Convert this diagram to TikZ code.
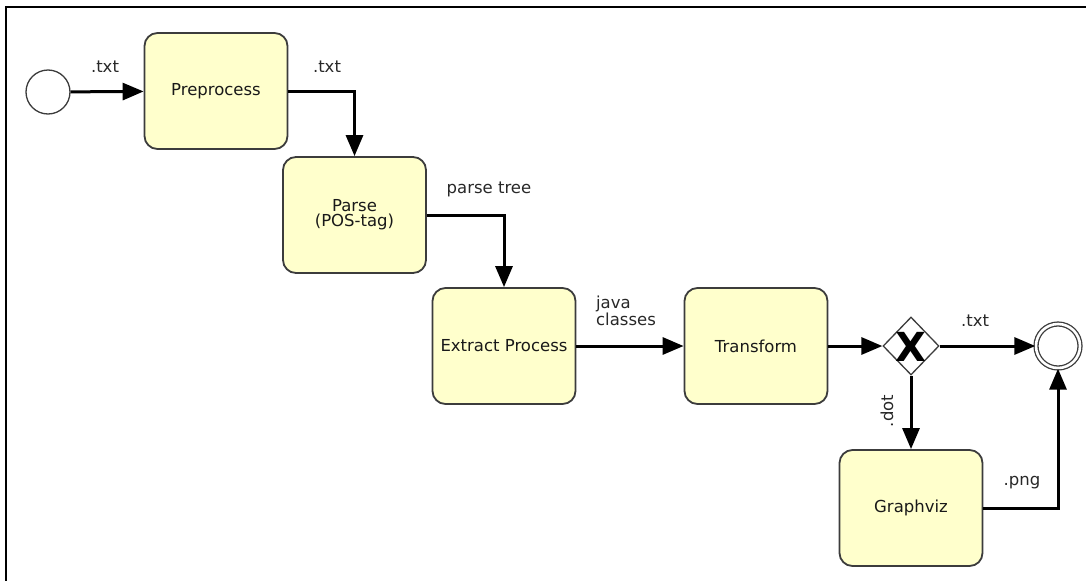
\documentclass[tikz,border=0pt]{standalone}
\usepackage{fontspec}
\setmainfont{DejaVu Sans}
\usetikzlibrary{arrows.meta,shapes.geometric}
\definecolor{boxfill}{RGB}{255,255,204}
\definecolor{boxline}{RGB}{60,60,60}
\definecolor{lbl}{RGB}{40,40,40}
\tikzset{
  task/.style={draw=boxline,line width=1.8pt,fill=boxfill,rounded corners=13pt,minimum width=143pt,minimum height=116pt,align=center,font=\fontsize{16.5}{18}\selectfont,text=black!90},
  flow/.style={line width=3pt,-{Triangle[length=21pt,width=17pt]}},
  lab/.style={font=\fontsize{16.5}{17.5}\selectfont,text=lbl,align=left,inner sep=0pt},
  startev/.style={circle,draw=boxline,line width=1.3pt,fill=white,minimum size=44pt,inner sep=0pt},
  endev/.style={circle,draw=boxline,line width=1.3pt,double=white,double distance=2.6pt,fill=white,minimum size=44pt,inner sep=0pt},
  gateway/.style={diamond,draw=boxline,line width=1.3pt,fill=white,minimum width=56pt,minimum height=58pt,inner sep=0pt}
}
\begin{document}
\begin{tikzpicture}[x=1pt,y=-1pt]
\useasboundingbox (0,0) rectangle (1086,581);
\fill[white] (0,0) rectangle (1086,581);
\draw[line width=2pt] (1086,7) -- (6,7) -- (6,581);

\node[startev] (start) at (48,92) {};
\node[task] (pre) at (216,91) {Preprocess};
\node[task] (parse) at (354.5,215) {Parse\\[-3pt](POS-tag)};
\node[task] (extract) at (504,346) {Extract Process};
\node[task] (trans) at (756,346) {Transform};
\node[gateway] (gw) at (911,346) {};
\node[font=\fontsize{40}{40}\bfseries\selectfont,inner sep=0pt] (gwx) at (911,347) {X};
\node[endev] (end) at (1058,346) {};
\node[task] (gv) at (911,508) {Graphviz};

\draw[flow] (start) -- (pre);
\draw[flow] (pre.east) -| (parse.north);
\draw[flow] (parse.east) -| (extract.north);
\draw[flow] (extract) -- (trans);
\draw[flow] (trans) -- (gw);
\draw[flow] (gw) -- (end);
\draw[flow] (gw.south) -- (gv.north);
\draw[flow] (gv.east) -| (end.south);

\node[lab] (l1) at (105,67) {.txt};
\node[lab] (l2) at (327,67) {.txt};
\node[lab] (l3) at (489,189) {parse tree};
\node[lab] (l4) at (626,311) {java\\classes};
\node[lab] (l5) at (975,321) {.txt};
\node[lab,rotate=90] (l6) at (887,411) {.dot};
\node[lab] (l7) at (1022,483) {.png};
\end{tikzpicture}
\end{document}
